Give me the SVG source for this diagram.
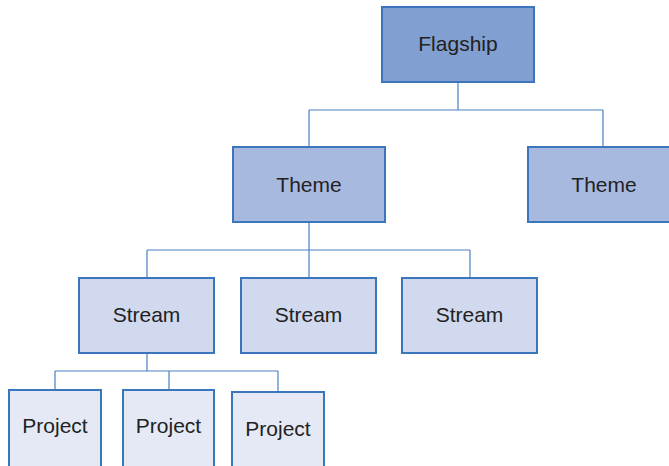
<svg xmlns="http://www.w3.org/2000/svg" width="669" height="466" viewBox="0 0 669 466">
  <style>
    .box { stroke: #3b76bd; stroke-width: 2; }
    .l0 { fill: #819fd1; }
    .l1 { fill: #a8b9e0; }
    .l2 { fill: #d0d9ed; }
    .l3 { fill: #e5e9f5; }
    .lbl { font-family: "Liberation Sans", Arial, sans-serif; font-size: 21px; fill: #222222; text-anchor: middle; }
    .conn { fill: none; stroke: #4a80c2; stroke-width: 1.2; }
  </style>
  <rect width="669" height="466" fill="#ffffff"/>

  <g id="connectors">
    <path class="conn" d="M458 82 V110 M309 110 H603 M309 110 V147 M603 110 V147"/>
    <path class="conn" d="M309 222 V250 M147 250 H470 M147 250 V278 M309 250 V278 M470 250 V278"/>
    <path class="conn" d="M147 353 V371 M55 371 H278 M55 371 V390 M169 371 V390 M278 371 V392"/>
  </g>

  <g id="flagship">
    <rect class="box l0" x="382" y="7" width="152" height="75"/>
    <text class="lbl" x="458" y="51">Flagship</text>
  </g>

  <g id="theme-1">
    <rect class="box l1" x="233" y="147" width="152" height="75"/>
    <text class="lbl" x="309" y="191.5">Theme</text>
  </g>
  <g id="theme-2">
    <rect class="box l1" x="528" y="147" width="152" height="75"/>
    <text class="lbl" x="604" y="191.5">Theme</text>
  </g>

  <g id="stream-1">
    <rect class="box l2" x="79" y="278" width="135" height="75"/>
    <text class="lbl" x="146.5" y="321.5">Stream</text>
  </g>
  <g id="stream-2">
    <rect class="box l2" x="241" y="278" width="135" height="75"/>
    <text class="lbl" x="308.5" y="321.5">Stream</text>
  </g>
  <g id="stream-3">
    <rect class="box l2" x="402" y="278" width="135" height="75"/>
    <text class="lbl" x="469.5" y="321.5">Stream</text>
  </g>

  <g id="project-1">
    <rect class="box l3" x="9" y="390" width="92" height="80"/>
    <text class="lbl" x="55" y="433">Project</text>
  </g>
  <g id="project-2">
    <rect class="box l3" x="123" y="390" width="91" height="80"/>
    <text class="lbl" x="168.5" y="433">Project</text>
  </g>
  <g id="project-3">
    <rect class="box l3" x="232" y="392" width="92" height="80"/>
    <text class="lbl" x="278" y="436">Project</text>
  </g>
</svg>
